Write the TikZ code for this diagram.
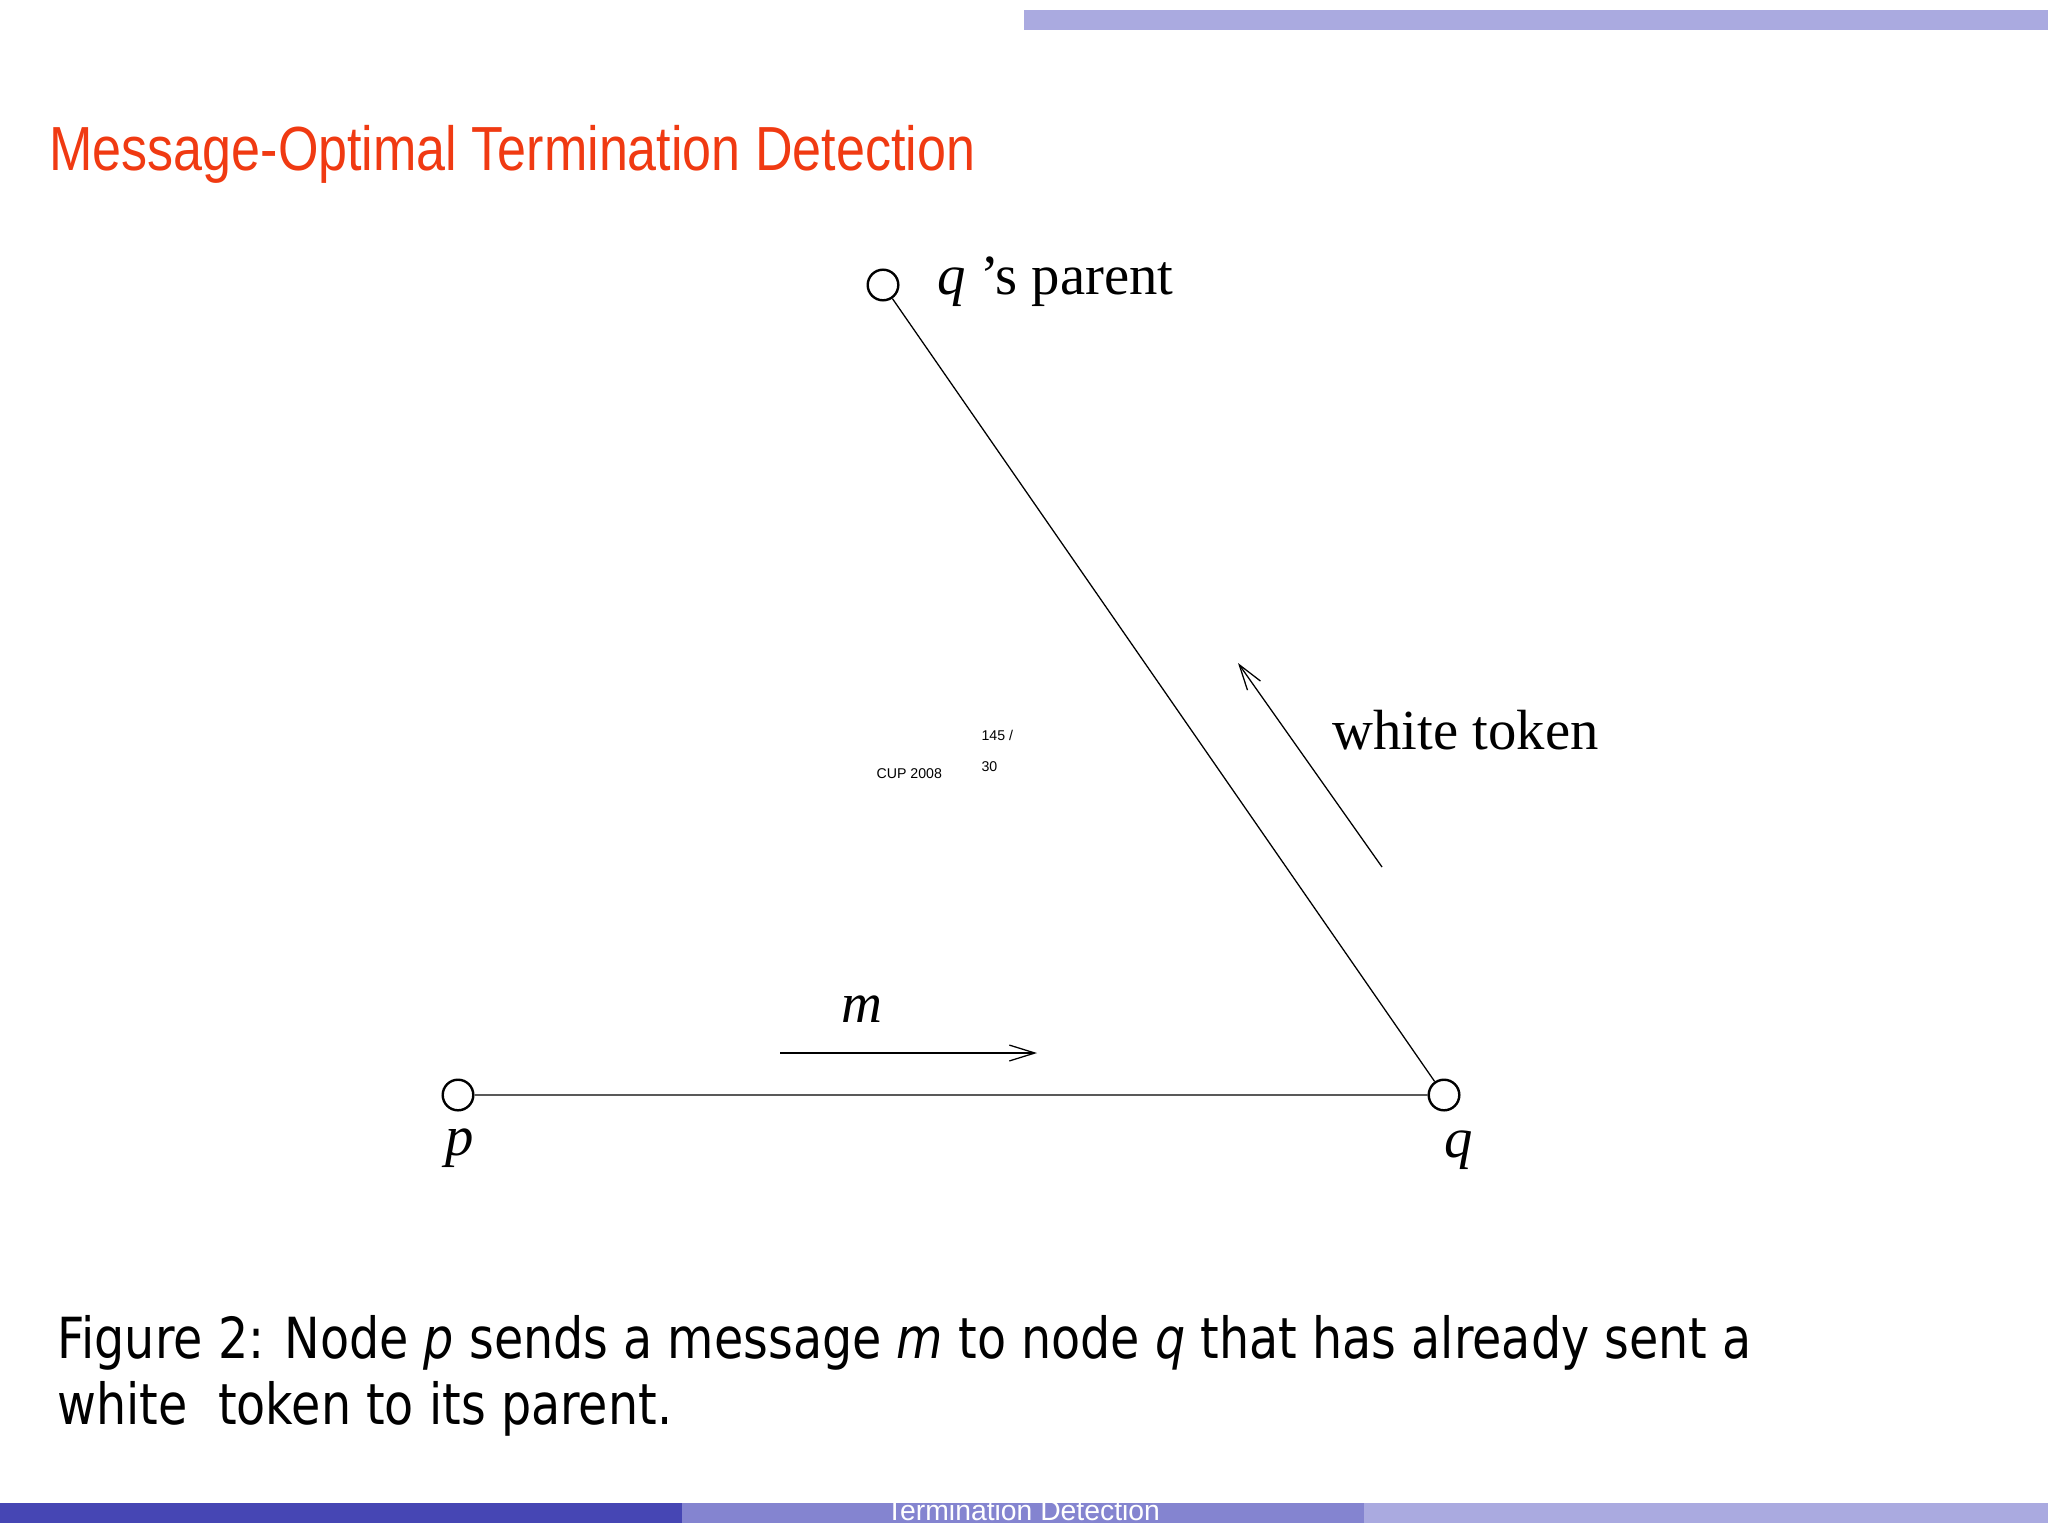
\documentclass[tikz,border=0pt]{standalone}
\usepackage{fontspec}
\setmainfont{Liberation Serif}
\newfontfamily\titlefont[FakeStretch=0.835]{Liberation Sans}
\newfontfamily\capfont[FakeStretch=0.84]{DejaVu Sans}
\newfontfamily\smallfont{Liberation Sans}
\usetikzlibrary{arrows.meta}
\definecolor{titlered}{RGB}{240,58,18}
\definecolor{bardark}{RGB}{70,70,180}
\definecolor{barmid}{RGB}{132,132,208}
\definecolor{barlight}{RGB}{170,170,224}

\tikzset{
  proc/.style={circle, draw, line width=0.85pt, inner sep=0pt, minimum size=10.8pt},
  lbl/.style={font=\fontsize{20}{24}\selectfont, inner sep=0pt},
  tiny/.style={anchor=base west, inner sep=0pt, font=\smallfont\fontsize{5}{6}\selectfont},
  capline/.style={anchor=base west, inner sep=0pt, font=\capfont\fontsize{20}{24}\selectfont},
  msg/.style={line width=0.45pt, -{Straight Barb[length=9pt,width=5.6pt]}}
}

\begin{document}
\begin{tikzpicture}[x=0.0124cm, y=-0.0124cm]
  \useasboundingbox (0,0) rectangle (2048,1536);
  % slide bars
  \fill[barlight] (1024,10) rectangle (2048,30);
  \fill[bardark] (0,1503) rectangle (682,1523);
  \fill[barmid] (682,1503) rectangle (1364,1523);
  \fill[barlight] (1364,1503) rectangle (2048,1523);
  \node[anchor=base, inner sep=0pt, white, font=\smallfont\fontsize{10}{12}\selectfont]
    (foot) at (1023,1520) {Termination Detection};

  \node[anchor=base west, inner sep=0pt, text=titlered, font=\titlefont\fontsize{22}{26}\selectfont]
    (title) at (49,170) {Message-Optimal Termination Detection};

  % processes
  \path
  (883,285) node[proc](par){}
  (458,1095) node[proc](p){}
  (1444,1095) node[proc](q){};
  \draw[line width=0.45pt] (p) -- (q) -- (par);

  \path
  (460,1155) node[lbl, anchor=base](plbl){\textit{p}}
  (1459,1157) node[lbl, anchor=base](qlbl){\textit{q}}
  (862,1022) node[lbl, anchor=base](mlbl){\textit{m}}
  (937,294) node[lbl, anchor=base west](parlbl){\textit{q} ’s parent}
  (1332,749) node[lbl, anchor=base west](wlbl){white token};

  % messages
  \coordinate (m0) at (780,1053);
  \coordinate (m1) at (1037,1053);
  \draw[msg] (m0) -- (m1);
  \coordinate (w0) at (1382,867);
  \coordinate (w1) at (1238,663);
  \draw[msg] (w0) -- (w1);

  \node[tiny] (pgnum) at (981,740) {145 /};
  \node[tiny] (pgtot) at (981,771) {30};
  \node[tiny] (cup) at (876,778) {CUP 2008};

  % caption
  \node[capline] (cap1) at (57,1358)
    {Figure 2: Node \textit{p} sends a message \textit{m} to node \textit{q} that has already sent a};
  \node[capline] (cap2) at (57,1424) {white\ \ token to its parent.};
\end{tikzpicture}
\end{document}
